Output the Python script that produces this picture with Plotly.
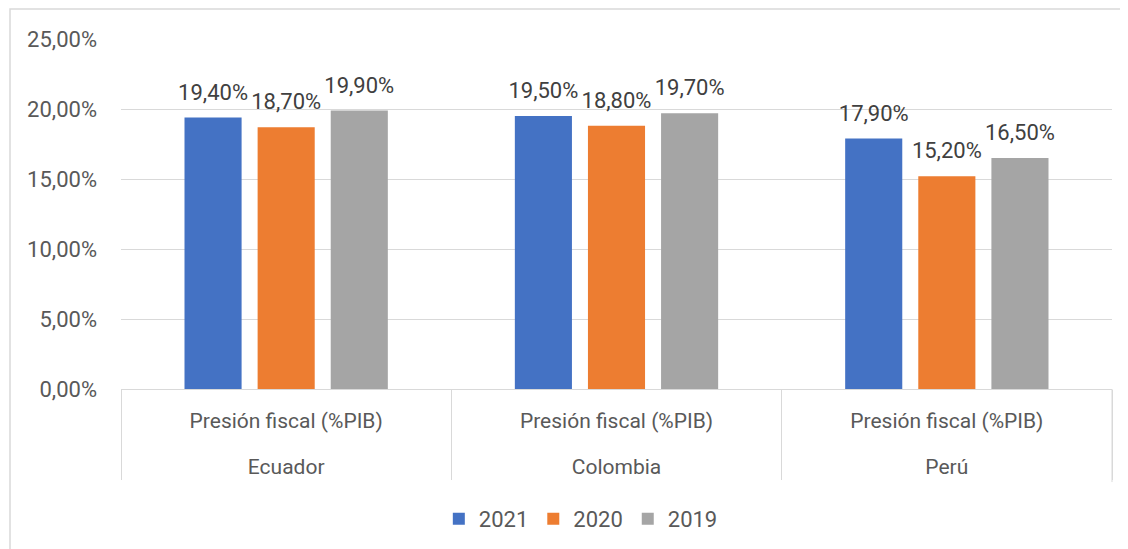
import plotly.graph_objects as go

paises = ['Ecuador', 'Colombia', 'Perú']
indicador = ['Presión fiscal (%PIB)'] * 3
anios = ['2021', '2020', '2019']
valores = {
    '2021': [0.194, 0.195, 0.179],
    '2020': [0.187, 0.188, 0.152],
    '2019': [0.199, 0.197, 0.165],
}
y_ticks = [0, 0.05, 0.10, 0.15, 0.20, 0.25]

colores = {'2021': '#4472C4', '2020': '#ED7D31', '2019': '#A5A5A5'}
font_fam = 'Roboto'
gris = '#D9D9D9'

# fila interior con una linea extra (vacia) para bajar la fila de paises
indicador_lbl = [t + '<br><span style="font-size:45px">\u00a0</span>' for t in indicador]

fig = go.Figure()

# barras
for anio in anios:
    fig.add_trace(go.Bar(
        x=[paises, indicador_lbl],
        y=valores[anio],
        name=anio,
        offsetgroup=anio,
        marker=dict(color=colores[anio], line=dict(width=0)),
        hoverinfo='skip',
    ))

# etiquetas de datos (scatter agrupado, para separar el texto de la barra)
for anio in anios:
    fig.add_trace(go.Scatter(
        x=[paises, indicador_lbl],
        y=valores[anio],
        offsetgroup=anio,
        mode='markers+text',
        marker=dict(size=18, color='rgba(0,0,0,0)'),
        text=[f'{v*100:.2f}%'.replace('.', ',') for v in valores[anio]],
        textposition='top center',
        textfont=dict(family=font_fam, size=22, color='#404040'),
        showlegend=False,
        hoverinfo='skip',
        cliponaxis=False,
    ))

fig.update_layout(
    width=1128, height=549,
    margin=dict(l=113, r=24, t=31, b=168),
    paper_bgcolor='white',
    plot_bgcolor='white',
    separators=',.',
    barmode='group',
    bargap=0.336,
    bargroupgap=0.219,
    scattermode='group',
    scattergap=0.336,
    font=dict(family=font_fam, size=21, color='#595959'),
    legend=dict(
        orientation='h',
        x=0.464, xanchor='center',
        y=-0.371, yanchor='middle',
        font=dict(family=font_fam, size=22, color='#595959'),
        traceorder='normal',
    ),
    shapes=[
        dict(
            type='rect', xref='paper', yref='paper',
            x0=-0.112, x1=1.1, y0=-1, y1=1.0857,
            line=dict(color=gris, width=1.5),
            fillcolor='rgba(0,0,0,0)', layer='below',
        ),
        dict(
            type='line', xref='paper', yref='paper',
            x0=1, x1=1, y0=0, y1=-0.266,
            line=dict(color=gris, width=1),
        ),
    ],
)

fig.update_xaxes(
    type='multicategory',
    automargin=False,
    showline=True, linecolor=gris, linewidth=1,
    showdividers=True, dividercolor=gris, dividerwidth=1,
    ticks='', showgrid=False,
    ticklabelstandoff=13,
    tickfont=dict(family=font_fam, size=21, color='#595959'),
)
fig.update_yaxes(
    range=[0, 0.25],
    automargin=False,
    tickvals=y_ticks,
    tickformat='.2%',
    showgrid=True, gridcolor=gris, gridwidth=1,
    zeroline=False, showline=False,
    ticks='', ticklabelstandoff=23,
    tickfont=dict(family=font_fam, size=22, color='#595959'),
)

fig.write_html('out.html')
